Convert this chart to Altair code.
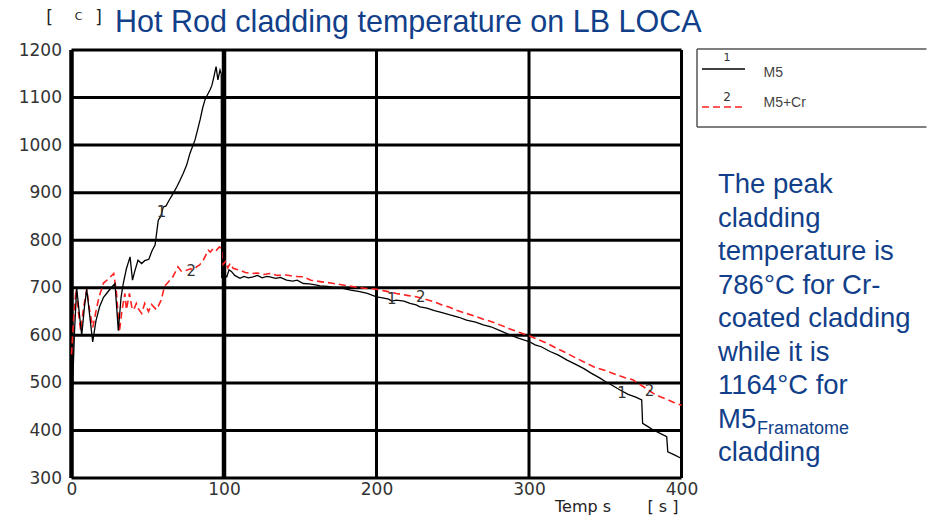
import altair as alt
import pandas as pd

# ---------------- data ----------------
m5_t = [0, 1, 2, 3.4, 5, 6.7, 8.5, 10, 12, 13.9, 16, 18.4, 21, 23, 26, 28.5, 30.7, 32.5, 34, 36,
        38.4, 40, 41.5, 43.6, 46, 48, 50.7, 52.8, 54.8, 56.9, 58.5, 60.2, 62, 64, 66.8, 69, 71,
        73.3, 75.5, 77.7, 79.5, 81, 82.5, 84.3, 86, 87.5, 89, 90.8, 92, 93.4, 94.8, 96, 97.4,
        98.2, 98.5, 100, 101.8, 103.3, 105, 107, 110.5, 113, 116, 119, 122, 125, 128, 130, 134,
        137, 141, 145, 148, 152, 156, 160, 163, 168, 173, 178, 183, 189, 194, 200, 204, 208,
        210, 213, 218, 222, 226, 228.5, 233, 238, 243, 248.2, 254, 259, 265, 270, 275, 281,
        287.5, 293, 300, 304, 308, 313.8, 319, 325, 331.3, 336, 341, 346.6, 350, 355, 359.7,
        365, 370, 373.9, 374.5, 378, 381.5, 386, 390.3, 391, 395, 400]
m5_T = [420, 520, 610, 700, 650, 600, 660, 697, 640, 586, 630, 660, 680, 688, 700, 709, 610, 680,
        710, 740, 765, 716, 735, 758, 751, 757, 760, 778, 790, 842, 850, 870, 872, 884, 899, 912,
        925, 941, 958, 983, 998, 1011, 1030, 1053, 1078, 1095, 1105, 1116, 1125, 1144, 1165,
        1137, 1158, 1150, 723, 728, 723, 738, 734, 726, 720, 724, 721, 723, 726, 721, 724, 723,
        720, 722, 716, 714, 716, 709, 708, 706, 704, 703, 700, 699, 695, 692, 688, 681, 679,
        676, 672, 674, 672, 667, 664, 660, 657, 652, 648, 643, 638, 632, 628, 622, 618, 610,
        601, 594, 587, 580, 576, 566, 559, 548, 538, 530, 520, 510, 503, 494, 485, 476, 470,
        464, 415, 408, 401, 394, 387, 355, 349, 341]

cr_t = [0, 1.5, 3, 4.5, 6, 8, 10, 12, 14, 16, 18, 21, 24, 27.7, 29.5, 31.4, 33, 35, 36, 38,
        39.5, 40.7, 42.5, 44, 46, 48, 50.5, 52.5, 55.6, 57, 58.8, 61, 63.5, 66.5, 69.8, 72,
        75.5, 78, 80, 82, 84, 86.4, 88, 89.7, 91, 93, 95, 97, 98.6, 99, 101, 102.5, 104, 106,
        108, 110.5, 114, 118, 122, 126, 130, 135, 141, 146, 152, 157, 163, 170, 178, 185, 192,
        200, 206, 213, 220, 226, 231, 237.3, 243, 248, 253, 259, 265, 270, 275, 281, 287, 293,
        300, 306, 312, 318, 325, 331, 337.8, 343, 350, 357.5, 363, 368.4, 372, 377, 381.5,
        386, 390, 395, 400]
cr_T = [560, 640, 697, 650, 610, 660, 697, 650, 617, 650, 680, 710, 718, 730, 690, 607, 650,
        688, 654, 688, 660, 653, 667, 655, 646, 667, 650, 665, 654, 662, 674, 703, 712, 723,
        744, 735, 737, 740, 738, 744, 748, 758, 768, 779, 775, 783, 779, 786, 782, 748, 755,
        742, 751, 741, 739, 737, 732, 730, 731, 728, 730, 726, 727, 724, 723, 716, 713, 710,
        706, 702, 699, 697, 693, 688, 684, 681, 677, 671, 664, 659, 652, 646, 640, 634, 629,
        622, 614, 607, 599, 591, 583, 573, 562, 552, 541, 533, 526, 517, 511, 506, 498, 488,
        478, 471, 466, 459, 453]

curve_lbl_t = [59, 78.5, 210, 229, 361, 379]
curve_lbl_T = [860, 736, 676, 680, 478, 482]
curve_lbl_txt = ["1", "2", "1", "2", "1", "2"]

x_ticks = [0, 100, 200, 300, 400]
y_ticks = [300, 400, 500, 600, 700, 800, 900, 1000, 1100, 1200]
h_grid = [400, 500, 600, 700, 800, 900, 1000, 1100, 1200]
v_grid = [200, 300, 400]

series_names = ["M5", "M5+Cr"]
title_text = "Hot Rod cladding temperature on LB LOCA"
note_lines = ["The peak", "cladding", "temperature is", "786°C for Cr-", "coated cladding",
              "while it is", "1164°C for", "M5", "cladding"]
note_sub = "Framatome"
x_title = ["Temp s", "[ s ]"]

# ---------------- chart ----------------
W, H = 610, 428
BLUE = "#123f8a"
xs = alt.Scale(domain=[0, 400], nice=False, zero=False)
ys = alt.Scale(domain=[300, 1200], nice=False, zero=False)

df_m5 = pd.DataFrame({"t": m5_t, "T": m5_T, "i": list(range(len(m5_t)))})
df_cr = pd.DataFrame({"t": cr_t, "T": cr_T, "i": list(range(len(cr_t)))})
df_lbl = pd.DataFrame({"t": curve_lbl_t, "T": curve_lbl_T, "txt": curve_lbl_txt})
ONE = pd.DataFrame({"k": [0]})

x_axis = alt.Axis(values=x_ticks, format="d", labelFont="DejaVu Sans", labelFontSize=17,
                  labelColor="#333", labelPadding=3, labelFlush=False, domain=False,
                  ticks=False, grid=False, title=None)
y_axis = alt.Axis(values=y_ticks, format="d", labelFont="DejaVu Sans", labelFontSize=17,
                  labelColor="#333", labelPadding=10, labelFlush=False, domain=False,
                  ticks=False, grid=False, title=None)


def X(f="t"):
    return alt.X(f + ":Q", scale=xs, axis=x_axis)


def Y(f="T"):
    return alt.Y(f + ":Q", scale=ys, axis=y_axis)


hgrid = alt.Chart(pd.DataFrame({"T": h_grid})).mark_rule(color="black", strokeWidth=3).encode(y=Y())
vgrid = alt.Chart(pd.DataFrame({"t": v_grid})).mark_rule(color="black", strokeWidth=3).encode(x=X())
v100 = alt.Chart(pd.DataFrame({"t": [100]})).mark_rule(color="black", strokeWidth=4.5).encode(x=X())
left_ax = alt.Chart(pd.DataFrame({"t": [0]})).mark_rule(color="black", strokeWidth=4.5).encode(x=X())
bottom_ax = alt.Chart(pd.DataFrame({"T": [300]})).mark_rule(color="black", strokeWidth=3).encode(y=Y())

line_cr = alt.Chart(df_cr).mark_line(color="#ff2020", strokeWidth=1.6, strokeDash=[7, 4]).encode(
    x=X(), y=Y(), order="i:Q")
line_m5 = alt.Chart(df_m5).mark_line(color="black", strokeWidth=1.3).encode(
    x=X(), y=Y(), order="i:Q")

lbls = alt.Chart(df_lbl).mark_text(font="DejaVu Sans", fontSize=15, color="#333",
                                   baseline="middle", align="center").encode(
    x=X(), y=Y(), text="txt:N")


def label(txt, x, y, size, color, font="Liberation Sans", align="left", baseline="middle"):
    return alt.Chart(ONE).mark_text(text=txt, align=align, baseline=baseline, font=font,
                                    fontSize=size, color=color).encode(
        x=alt.value(x), y=alt.value(y))


def hline(x1, x2, y, color="#555", width=1.5, dash=None):
    kw = dict(color=color, strokeWidth=width)
    if dash:
        kw["strokeDash"] = dash
    return alt.Chart(ONE).mark_rule(**kw).encode(x=alt.value(x1), x2=alt.value(x2), y=alt.value(y))


layers = [hgrid, vgrid, v100, left_ax, bottom_ax, line_cr, line_m5, lbls]

# unit and title
layers.append(label("[", -22, -27, 17, "#222", font="DejaVu Sans", align="center", baseline="alphabetic"))
layers.append(label("C", 7, -30, 11, "#222", font="DejaVu Sans", align="center", baseline="alphabetic"))
layers.append(label("]", 27, -27, 17, "#222", font="DejaVu Sans", align="center", baseline="alphabetic"))
layers.append(label(title_text, 43.5, -18, 30.5, BLUE, baseline="alphabetic"))

# legend box (open on the right, it runs past the picture's edge)
layers.append(hline(625.5, 855, -1))
layers.append(hline(625.5, 855, 77))
layers.append(alt.Chart(ONE).mark_rule(color="#555", strokeWidth=1.5).encode(
    x=alt.value(625.5), y=alt.value(-1), y2=alt.value(77)))
layers.append(hline(630.5, 673.5, 19, color="black"))
layers.append(hline(630.5, 673.5, 57, color="#ff2020", dash=[7, 4]))
layers.append(label("1", 655.5, 8, 11, "#333", font="DejaVu Sans", align="center"))
layers.append(label("2", 655.5, 47, 12, "#333", font="DejaVu Sans", align="center"))
layers.append(label(series_names[0], 692, 23, 14, "#444"))
layers.append(label(series_names[1], 692, 53, 14, "#444"))

# note on the right
for k, line in enumerate(note_lines):
    layers.append(label(line, 646.5, 135 + 33.5 * k, 27.5, BLUE))
layers.append(label(note_sub, 685.5, 379, 18, BLUE))

# x-axis title
layers.append(label(x_title[0], 483.5, 462, 16, "#222", font="DejaVu Sans", baseline="alphabetic"))
layers.append(label(x_title[1], 576, 462, 16, "#222", font="DejaVu Sans", baseline="alphabetic"))

chart = alt.layer(*layers).properties(
    width=W, height=H,
    padding={"left": 63.5, "top": 42, "right": 245.5, "bottom": 39},
    autosize=alt.AutoSizeParams(type="none"),
    background="white",
).configure_view(stroke=None)

chart.save("out.html", embed_options={"renderer": "svg", "actions": False})
